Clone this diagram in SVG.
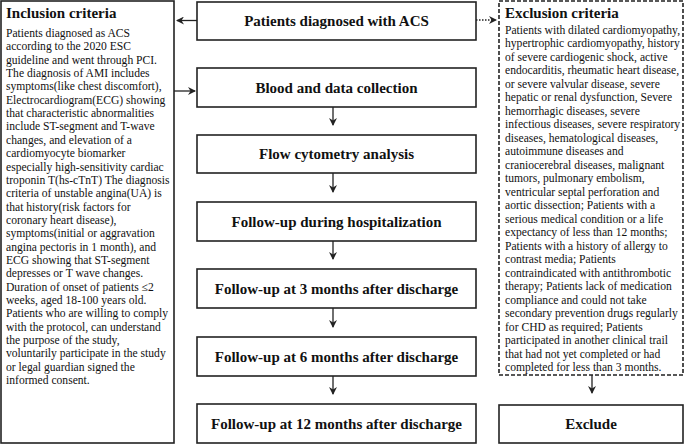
<svg xmlns="http://www.w3.org/2000/svg" width="685" height="445" viewBox="0 0 685 445">
<defs>
<style>
.box{fill:#fff;stroke:#222;stroke-width:1.6}
.dbox{fill:#fff;stroke:#222;stroke-width:1.6;stroke-dasharray:4 2}
text{font-family:'Liberation Serif','Times New Roman',Times,'DejaVu Serif',serif;fill:#111}
.lbl{font-weight:bold;font-size:15px;text-anchor:middle}
.ttl{font-weight:bold;font-size:15px}
.body{font-size:11.6px}
.con{stroke:#222;stroke-width:1.3;fill:none}
</style>
<marker id="ah" viewBox="0 0 8 8" refX="7" refY="4" markerWidth="8" markerHeight="8" markerUnits="userSpaceOnUse" orient="auto">
<path d="M0,0 L8,4 L0,8 L2.5,4 Z" fill="#222"/>
</marker>
</defs>
<rect width="685" height="445" fill="#fff"/>

<g id="inclusion">
<rect class="box" x="1" y="1" width="173" height="442"/>
<text class="ttl" x="6" y="18">Inclusion criteria</text>
<text class="body" x="6" y="37">
<tspan x="6" dy="0">Patients diagnosed as ACS</tspan>
<tspan x="6" dy="13.35">according to the 2020 ESC</tspan>
<tspan x="6" dy="13.35">guideline and went through PCI.</tspan>
<tspan x="6" dy="13.35">The diagnosis of AMI includes</tspan>
<tspan x="6" dy="13.35">symptoms(like chest discomfort),</tspan>
<tspan x="6" dy="13.35">Electrocardiogram(ECG) showing</tspan>
<tspan x="6" dy="13.35">that characteristic abnormalities</tspan>
<tspan x="6" dy="13.35">include ST-segment and T-wave</tspan>
<tspan x="6" dy="13.35">changes, and elevation of a</tspan>
<tspan x="6" dy="13.35">cardiomyocyte biomarker</tspan>
<tspan x="6" dy="13.35">especially high-sensitivity cardiac</tspan>
<tspan x="6" dy="13.35">troponin T(hs-cTnT) The diagnosis</tspan>
<tspan x="6" dy="13.35">criteria of unstable angina(UA) is</tspan>
<tspan x="6" dy="13.35">that history(risk factors for</tspan>
<tspan x="6" dy="13.35">coronary heart disease),</tspan>
<tspan x="6" dy="13.35">symptoms(initial or aggravation</tspan>
<tspan x="6" dy="13.35">angina pectoris in 1 month), and</tspan>
<tspan x="6" dy="13.35">ECG showing that ST-segment</tspan>
<tspan x="6" dy="13.35">depresses or T wave changes.</tspan>
<tspan x="6" dy="13.35">Duration of onset of patients ≤2</tspan>
<tspan x="6" dy="13.35">weeks, aged 18-100 years old.</tspan>
<tspan x="6" dy="13.35">Patients who are willing to comply</tspan>
<tspan x="6" dy="13.35">with the protocol, can understand</tspan>
<tspan x="6" dy="13.35">the purpose of the study,</tspan>
<tspan x="6" dy="13.35">voluntarily participate in the study</tspan>
<tspan x="6" dy="13.35">or legal guardian signed the</tspan>
<tspan x="6" dy="13.35">informed consent.</tspan>
</text>
</g>

<g id="exclusion">
<rect class="dbox" x="499" y="1" width="184" height="374"/>
<text class="ttl" x="505" y="18">Exclusion criteria</text>
<text class="body" x="505" y="33.5">
<tspan x="505" dy="0">Patients with dilated cardiomyopathy,</tspan>
<tspan x="505" dy="13.5">hypertrophic cardiomyopathy, history</tspan>
<tspan x="505" dy="13.5">of severe cardiogenic shock, active</tspan>
<tspan x="505" dy="13.5">endocarditis, rheumatic heart disease,</tspan>
<tspan x="505" dy="13.5">or severe valvular disease, severe</tspan>
<tspan x="505" dy="13.5">hepatic or renal dysfunction, Severe</tspan>
<tspan x="505" dy="13.5">hemorrhagic diseases, severe</tspan>
<tspan x="505" dy="13.5">infectious diseases, severe respiratory</tspan>
<tspan x="505" dy="13.5">diseases, hematological diseases,</tspan>
<tspan x="505" dy="13.5">autoimmune diseases and</tspan>
<tspan x="505" dy="13.5">craniocerebral diseases, malignant</tspan>
<tspan x="505" dy="13.5">tumors, pulmonary embolism,</tspan>
<tspan x="505" dy="13.5">ventricular septal perforation and</tspan>
<tspan x="505" dy="13.5">aortic dissection; Patients with a</tspan>
<tspan x="505" dy="13.5">serious medical condition or a life</tspan>
<tspan x="505" dy="13.5">expectancy of less than 12 months;</tspan>
<tspan x="505" dy="13.5">Patients with a history of allergy to</tspan>
<tspan x="505" dy="13.5">contrast media; Patients</tspan>
<tspan x="505" dy="13.5">contraindicated with antithrombotic</tspan>
<tspan x="505" dy="13.5">therapy; Patients lack of medication</tspan>
<tspan x="505" dy="13.5">compliance and could not take</tspan>
<tspan x="505" dy="13.5">secondary prevention drugs regularly</tspan>
<tspan x="505" dy="13.5">for CHD as required; Patients</tspan>
<tspan x="505" dy="13.5">participated in another clinical trail</tspan>
<tspan x="505" dy="13.5">that had not yet completed or had</tspan>
<tspan x="505" dy="13.5">completed for less than 3 months.</tspan>
</text>
</g>

<g id="acs"><rect class="box" x="197" y="2" width="279" height="38"/><text class="lbl" x="336.5" y="26">Patients diagnosed with ACS</text></g>
<g id="blood"><rect class="box" x="197" y="68" width="279" height="39"/><text class="lbl" x="336.5" y="93">Blood and data collection</text></g>
<g id="flow"><rect class="box" x="197" y="135" width="279" height="38"/><text class="lbl" x="336.5" y="159">Flow cytometry analysis</text></g>
<g id="hosp"><rect class="box" x="197" y="202" width="279" height="39"/><text class="lbl" x="336.5" y="227">Follow-up during hospitalization</text></g>
<g id="m3"><rect class="box" x="197" y="269" width="279" height="39"/><text class="lbl" x="336.5" y="294">Follow-up at 3 months after discharge</text></g>
<g id="m6"><rect class="box" x="197" y="337" width="279" height="39"/><text class="lbl" x="336.5" y="362">Follow-up at 6 months after discharge</text></g>
<g id="m12"><rect class="box" x="197" y="404" width="279" height="39"/><text class="lbl" x="336.5" y="429">Follow-up at 12 months after discharge</text></g>
<g id="exclude"><rect class="box" x="499" y="405" width="184" height="38"/><text class="lbl" x="591" y="429">Exclude</text></g>

<g id="connectors">
<line class="con" x1="197" y1="20.5" x2="177" y2="20.5" marker-end="url(#ah)"/>
<line class="con" x1="174" y1="91" x2="195" y2="91" marker-end="url(#ah)"/>
<line class="con" x1="476" y1="20" x2="496" y2="20" stroke-dasharray="1.5 1.5" marker-end="url(#ah)"/>
<line class="con" x1="333" y1="107" x2="333" y2="125" marker-end="url(#ah)"/>
<line class="con" x1="333" y1="173" x2="333" y2="192" marker-end="url(#ah)"/>
<line class="con" x1="333" y1="241" x2="333" y2="259" marker-end="url(#ah)"/>
<line class="con" x1="333" y1="308" x2="333" y2="327" marker-end="url(#ah)"/>
<line class="con" x1="333" y1="376" x2="333" y2="394" marker-end="url(#ah)"/>
<line class="con" x1="592" y1="375" x2="592" y2="393" marker-end="url(#ah)"/>
</g>
</svg>
